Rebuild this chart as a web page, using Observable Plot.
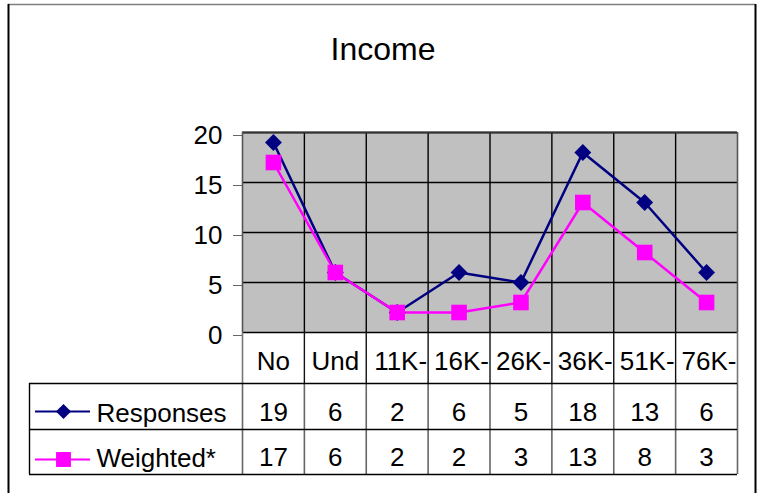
<!DOCTYPE html>
<html>
<head>
<meta charset="utf-8">
<script src="https://cdn.jsdelivr.net/npm/d3@7"></script>
<script src="https://cdn.jsdelivr.net/npm/@observablehq/plot@0.6"></script>
<style>
  html, body { margin: 0; padding: 0; background: #fff; }
</style>
</head>
<body>
<div id="chart"></div>
<script>
// ---- data ----
const title = "Income";
const categories = ["No", "Und", "11K-", "16K-", "26K-", "36K-", "51K-", "76K-"];
const responses = [19, 6, 2, 6, 5, 18, 13, 6];
const weighted = [17, 6, 2, 2, 3, 13, 8, 3];
const seriesNames = ["Responses", "Weighted*"];
const yTicks = [0, 5, 10, 15, 20];

// ---- layout ----
const W = 758, H = 493, ML = 242, MR = 21, MT = 132, MB = 161;
const n = categories.length;
const yMax = 20;
const pxX = v => (v - ML) / ((W - ML - MR) / n);       // pixel -> x units
const pxY = v => yMax - (v - MT) / ((H - MT - MB) / yMax); // pixel -> y units

const NAVY = "#000080", MAGENTA = "#FF00FF";
const rows = categories.map((c, i) => ({cat: c, i, responses: responses[i], weighted: weighted[i]}));
const plain = rows.filter(d => !d.cat.endsWith("-"));
const hyph = rows.filter(d => d.cat.endsWith("-"));
const cx = d => d.i + 0.5;

const rowTop = pxY(383), rowMid = pxY(429), rowBot = pxY(474);
const tableLeft = pxX(29);

const chart = Plot.plot({
  width: W, height: H,
  marginLeft: ML, marginRight: MR, marginTop: MT, marginBottom: MB,
  style: {fontFamily: "'Liberation Sans', Arial, sans-serif", fontSize: "26px", background: "#fff", color: "#000"},
  x: {domain: [0, n], axis: null},
  y: {domain: [0, yMax], axis: null},
  marks: [
    // outer chart border
    Plot.ruleY([pxY(4)], {x1: pxX(8), x2: pxX(755), stroke: "#808080", strokeWidth: 1.5}),
    Plot.ruleX([pxX(8), pxX(755)], {y1: pxY(4), y2: pxY(520), stroke: "#000", strokeWidth: 2}),
    // title
    Plot.text([title], {x: pxX(382.5), y: pxY(49), text: d => d, fontSize: 32, fill: "#000"}),
    // plot area
    Plot.frame({fill: "#C0C0C0", stroke: null}),
    Plot.ruleY(yTicks, {stroke: "#000", strokeWidth: 1.4}),
    Plot.ruleX(d3.range(1, n), {y1: 0, y2: yMax, stroke: "#000", strokeWidth: 1.4}),
    Plot.ruleY([yMax], {stroke: "#333", strokeWidth: 2}),
    Plot.ruleX([0, n], {y1: 0, y2: yMax, stroke: "#555", strokeWidth: 1.6}),
    // y axis
    Plot.axisY(yTicks, {tickSize: 9, tickPadding: 11, fontSize: 26, label: null, stroke: "#666", dy: 3}),
    // series lines and markers
    Plot.line(rows, {x: cx, y: "responses", stroke: NAVY, strokeWidth: 2.5}),
    Plot.line(rows, {x: cx, y: "weighted", stroke: MAGENTA, strokeWidth: 2.5}),
    Plot.dot(rows, {x: cx, y: "responses", symbol: "diamond2", r: 7.6, fill: NAVY, stroke: null}),
    Plot.dot(rows, {x: cx, y: "weighted", symbol: "square", r: 8.8, fill: MAGENTA, stroke: null}),
    // data table: category row
    Plot.ruleX(d3.range(1, n), {y1: 0, y2: rowTop, stroke: "#111", strokeWidth: 1.4}),
    Plot.ruleX([0, n], {y1: 0, y2: rowTop, stroke: "#777", strokeWidth: 1.6}),
    Plot.text(plain, {x: cx, y: pxY(361), text: "cat", fontSize: 26, fill: "#000"}),
    Plot.text(hyph, {x: d => d.i + 1, y: pxY(361), text: "cat", fontSize: 26, textAnchor: "end", dx: -1, fill: "#000"}),
    // data table: series rows
    Plot.ruleX(d3.range(0, n + 1), {y1: rowTop, y2: rowBot, stroke: "#666", strokeWidth: 1.6}),
    Plot.ruleX([tableLeft], {y1: rowTop, y2: rowBot, stroke: "#000", strokeWidth: 1.4}),
    Plot.ruleY([rowTop, rowMid, rowBot], {x1: tableLeft, x2: n, stroke: "#000", strokeWidth: 1.4}),
    Plot.text(rows, {x: cx, y: pxY(412), text: d => String(d.responses), fontSize: 26, fill: "#000"}),
    Plot.text(rows, {x: cx, y: pxY(457), text: d => String(d.weighted), fontSize: 26, fill: "#000"}),
    // legend keys inside table
    Plot.ruleY([pxY(411)], {x1: pxX(35), x2: pxX(90), stroke: NAVY, strokeWidth: 2.2}),
    Plot.dot([0], {x: pxX(63), y: pxY(411), symbol: "diamond2", r: 6.8, fill: NAVY, stroke: null}),
    Plot.ruleY([pxY(459)], {x1: pxX(35), x2: pxX(90), stroke: MAGENTA, strokeWidth: 2.2}),
    Plot.dot([0], {x: pxX(63), y: pxY(459), symbol: "square", r: 8.4, fill: MAGENTA, stroke: null}),
    Plot.text([seriesNames[0]], {x: pxX(96), y: pxY(413), text: d => d, textAnchor: "start", fontSize: 26, fill: "#000"}),
    Plot.text([seriesNames[1]], {x: pxX(96), y: pxY(458), text: d => d, textAnchor: "start", fontSize: 26, fill: "#000"})
  ]
});
document.getElementById("chart").append(chart);
</script>
</body>
</html>
